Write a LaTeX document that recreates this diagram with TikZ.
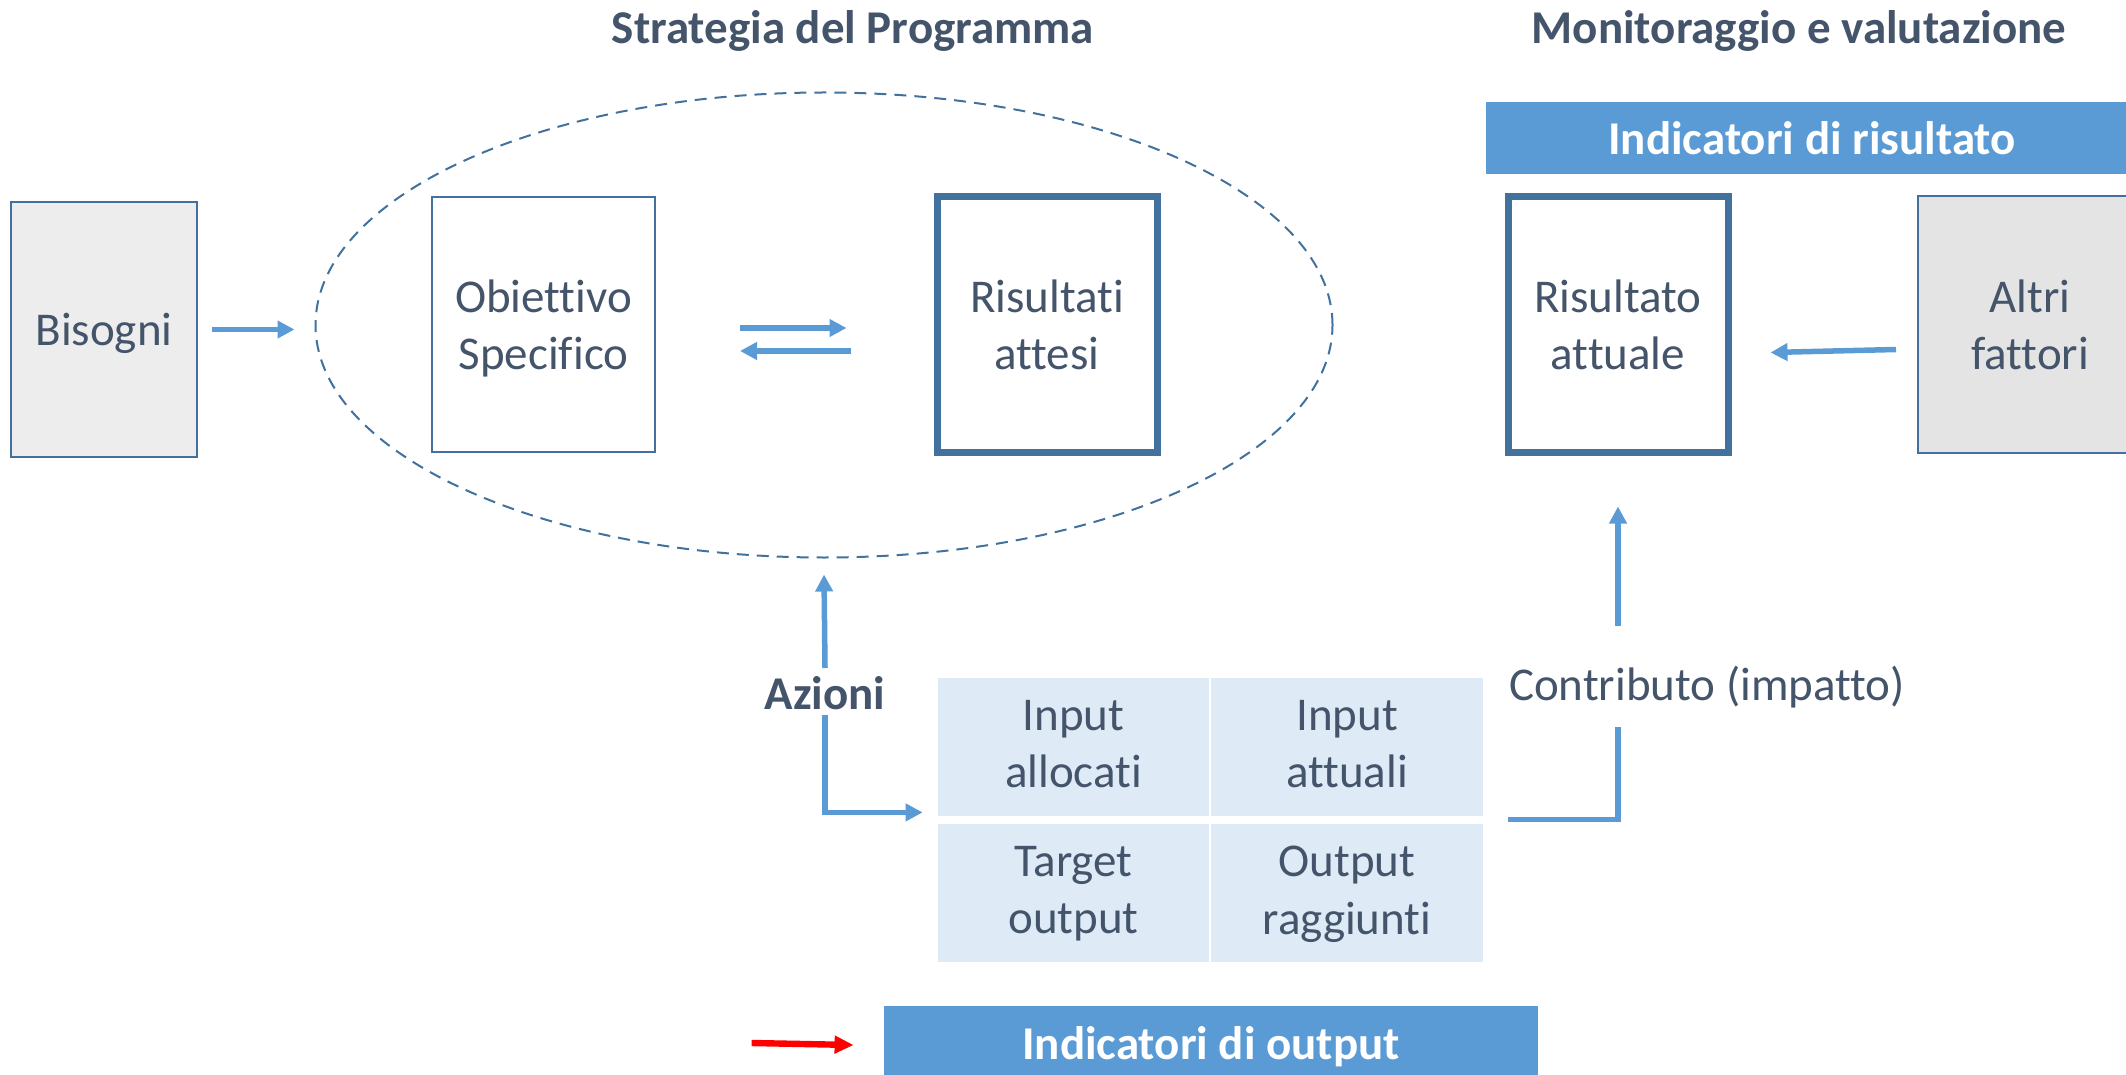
\documentclass[tikz,border=0pt]{standalone}
\usepackage{fontspec}
\setmainfont{Carlito}[Ligatures=NoCommon]
\usetikzlibrary{arrows.meta,shapes.geometric,calc}
\definecolor{txt}{HTML}{44546A}
\definecolor{edge}{HTML}{41719C}
\definecolor{acc}{HTML}{5B9BD5}
\definecolor{cellfill}{HTML}{DEEBF7}
\definecolor{grayA}{HTML}{EDEDED}
\definecolor{grayB}{HTML}{E4E4E4}
\begin{document}
\begin{tikzpicture}[x=0.5pt,y=-0.5pt,
  every node/.style={font=\fontsize{23.5}{28.8}\selectfont, text=txt, align=center, inner sep=0pt, text depth=0pt},
  thinbox/.style={draw=edge, line width=1pt, minimum width=#1, minimum height=127.5pt},
  thickbox/.style={draw=edge, line width=3.5pt, fill=white, minimum width=110pt, minimum height=127.5pt},
  bar/.style={fill=acc, text=white, font=\fontsize{23.5}{28.8}\selectfont\bfseries},
  cell/.style={fill=cellfill, minimum width=#1, minimum height=69pt, text depth=3pt},
  arr/.style={draw=acc, line width=2.75pt, -{Triangle[length=8.5pt,width=8.5pt]}},
  conn/.style={draw=acc, line width=2.75pt},
  title/.style={font=\fontsize{23.5}{28.8}\selectfont\bfseries}
]
\useasboundingbox (0,0) rectangle (2126,1075);
\clip (0,0) rectangle (2126,1075);

% titles
\node[title] (t1) at (853,27) {Strategia del Programma};
\node[title] (t2) at (1799,27) {Monitoraggio e valutazione};

% strategy ellipse
\node[ellipse, draw=edge, line width=1pt, dash pattern=on 6pt off 4pt,
      minimum width=508.5pt, minimum height=232.5pt] (strat) at (824,325) {};

% boxes
\node[thinbox=93pt, fill=grayA] (bis) at (104,329.5) {Bisogni};
\node[thinbox=111.5pt, fill=white] (obj) at (543.5,324.5) {Obiettivo\\Specifico};
\node[thickbox] (ra) at (1047,324.5) {Risultati\\attesi};
\node[thickbox] (rat) at (1618,324.5) {Risultato\\attuale};
\node[draw=edge, line width=1pt, fill=grayB, minimum width=112pt, minimum height=128.5pt] (alt) at (2030,324.5) {Altri\\fattori};

% bars
\node[bar, minimum width=326pt, minimum height=36pt] (ir) at (1812,138) {Indicatori di risultato};
\node[bar, minimum width=327pt, minimum height=39pt, text depth=2pt] (io) at (1211,1045) {Indicatori di output};

% grid
\node[cell=135.5pt] (c11) at (1073.5,747) {Input\\allocati};
\node[cell=136pt] (c12) at (1347,747) {Input\\attuali};
\node[cell=135.5pt] (c21) at (1073.5,893) {Target\\output};
\node[cell=136pt] (c22) at (1347,893) {Output\\raggiunti};

% labels
\node[title] (az) at (825,693) {Azioni};
\node (contrib) at (1707,683) {Contributo (impatto)};

% connectors
\draw[arr] ([xshift=7pt]bis.east) -- ([xshift=-10pt]strat.west |- bis.east);
\draw[arr] ([xshift=42pt,yshift=-1.75pt]obj.east) -- ([xshift=-43.5pt,yshift=-1.75pt]ra.west);
\draw[arr] ([xshift=-41.5pt,yshift=-13.25pt]ra.west) -- ([xshift=42pt,yshift=-13.25pt]obj.east);
\draw[arr] ([xshift=-10.5pt,yshift=-12.5pt]alt.west) -- ([xshift=19.5pt,yshift=-14pt]rat.east);
\draw[arr] ([yshift=-85pt]rat.south) -- ([yshift=-25.5pt]rat.south);
\draw[conn] ([xshift=12.5pt,yshift=-1.5pt]c12.south east) -| ([yshift=-135.5pt]rat.south);
\draw[arr] ([yshift=12.5pt]az.center) -- ([yshift=-8pt]strat.south);
\draw[arr] ([yshift=-11pt]az.center) |- ([xshift=-7.5pt,yshift=2pt]c11.south west);
\draw[draw=red, line width=3.2pt, -{Triangle[length=9.5pt,width=8.5pt]}] ([xshift=-66pt,yshift=1pt]io.west) -- ([xshift=-15pt]io.west);
\end{tikzpicture}
\end{document}
